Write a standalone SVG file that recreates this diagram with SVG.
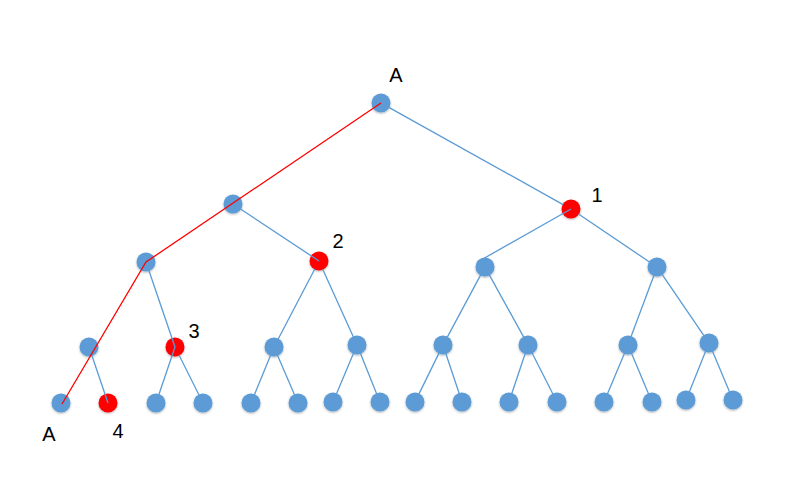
<svg xmlns="http://www.w3.org/2000/svg" width="794" height="477" viewBox="0 0 794 477">
<defs>
<style>
.n{fill:#5B9BD5;filter:url(#sh)}
.r{fill:#FF0000;filter:url(#sh)}
.e{stroke:#5B9BD5;stroke-width:1.3;fill:none}
.p{stroke:#FF0000;stroke-width:1.3;fill:none}
.t{font-family:"Liberation Sans",Arial,sans-serif;font-size:20px;fill:#000}
</style>
<filter id="sh" x="-50%" y="-50%" width="200%" height="200%">
<feDropShadow dx="0" dy="1" stdDeviation="1.2" flood-color="#000" flood-opacity="0.3"/>
</filter>
</defs>
<rect width="794" height="477" fill="#fff"/>
<g id="nodes">
<circle id="n0" class="n" cx="381" cy="103" r="9.5"/>
<circle id="n1" class="n" cx="233" cy="204" r="9.5"/>
<circle id="n2" class="r" cx="571" cy="209" r="9.5"/>
<circle id="n3" class="n" cx="146" cy="262" r="9.5"/>
<circle id="n4" class="r" cx="319" cy="261" r="9.5"/>
<circle id="n5" class="n" cx="485" cy="267" r="9.5"/>
<circle id="n6" class="n" cx="657" cy="267" r="9.5"/>
<circle id="n7" class="n" cx="89" cy="347" r="9.5"/>
<circle id="n8" class="r" cx="175" cy="347" r="9.5"/>
<circle id="n9" class="n" cx="274" cy="347" r="9.5"/>
<circle id="n10" class="n" cx="357" cy="345" r="9.5"/>
<circle id="n11" class="n" cx="443" cy="345" r="9.5"/>
<circle id="n12" class="n" cx="528" cy="345" r="9.5"/>
<circle id="n13" class="n" cx="628" cy="345" r="9.5"/>
<circle id="n14" class="n" cx="709" cy="343" r="9.5"/>
<circle id="n15" class="n" cx="61" cy="403" r="9.5"/>
<circle id="n16" class="r" cx="108" cy="403" r="9.5"/>
<circle id="n17" class="n" cx="156" cy="403" r="9.5"/>
<circle id="n18" class="n" cx="203" cy="403" r="9.5"/>
<circle id="n19" class="n" cx="251" cy="403" r="9.5"/>
<circle id="n20" class="n" cx="298" cy="403" r="9.5"/>
<circle id="n21" class="n" cx="333" cy="402" r="9.5"/>
<circle id="n22" class="n" cx="380" cy="402" r="9.5"/>
<circle id="n23" class="n" cx="415" cy="402" r="9.5"/>
<circle id="n24" class="n" cx="462" cy="402" r="9.5"/>
<circle id="n25" class="n" cx="509" cy="402" r="9.5"/>
<circle id="n26" class="n" cx="557" cy="402" r="9.5"/>
<circle id="n27" class="n" cx="604" cy="402" r="9.5"/>
<circle id="n28" class="n" cx="652" cy="402" r="9.5"/>
<circle id="n29" class="n" cx="686" cy="400" r="9.5"/>
<circle id="n30" class="n" cx="733" cy="400" r="9.5"/>
</g>
<g id="connectors">
<line class="e" x1="389.3" y1="107.6" x2="563.1" y2="204.6"/>
<line class="e" x1="240.5" y1="209" x2="319" y2="261"/>
<line class="e" x1="571" y1="209" x2="477.5" y2="262"/>
<line class="e" x1="578.5" y1="214" x2="649.5" y2="262"/>
<line class="e" x1="148.9" y1="270.5" x2="175" y2="347"/>
<line class="e" x1="91.9" y1="355.5" x2="108" y2="403"/>
<line class="e" x1="175" y1="347" x2="158.9" y2="394.5"/>
<line class="e" x1="179" y1="355" x2="199" y2="395"/>
<line class="e" x1="314.8" y1="269" x2="278.2" y2="339"/>
<line class="e" x1="322.7" y1="269.2" x2="353.3" y2="336.8"/>
<line class="e" x1="270.6" y1="355.3" x2="254.4" y2="394.7"/>
<line class="e" x1="277.5" y1="355.3" x2="294.5" y2="394.7"/>
<line class="e" x1="353.5" y1="353.3" x2="336.5" y2="393.7"/>
<line class="e" x1="360.4" y1="353.3" x2="376.6" y2="393.7"/>
<line class="e" x1="480.7" y1="274.9" x2="447.3" y2="337.1"/>
<line class="e" x1="489.3" y1="274.9" x2="523.7" y2="337.1"/>
<line class="e" x1="439" y1="353.1" x2="419" y2="393.9"/>
<line class="e" x1="445.8" y1="353.5" x2="459.2" y2="393.5"/>
<line class="e" x1="525.2" y1="353.5" x2="511.8" y2="393.5"/>
<line class="e" x1="532.1" y1="353" x2="552.9" y2="394"/>
<line class="e" x1="653.9" y1="275.4" x2="631.1" y2="336.6"/>
<line class="e" x1="662.1" y1="274.4" x2="703.9" y2="335.6"/>
<line class="e" x1="624.5" y1="353.3" x2="607.5" y2="393.7"/>
<line class="e" x1="631.5" y1="353.3" x2="648.5" y2="393.7"/>
<line class="e" x1="705.6" y1="351.3" x2="689.4" y2="391.7"/>
<line class="e" x1="712.5" y1="351.3" x2="729.5" y2="391.7"/>
<polyline class="p" points="381,103 146,262 62,404"/>
</g>
<g id="labels">
<text class="t" x="396" y="82" text-anchor="middle">A</text>
<text class="t" x="597" y="202" text-anchor="middle">1</text>
<text class="t" x="338" y="248" text-anchor="middle">2</text>
<text class="t" x="194" y="338" text-anchor="middle">3</text>
<text class="t" x="118" y="438" text-anchor="middle">4</text>
<text class="t" x="49" y="441" text-anchor="middle">A</text>
</g>
</svg>
